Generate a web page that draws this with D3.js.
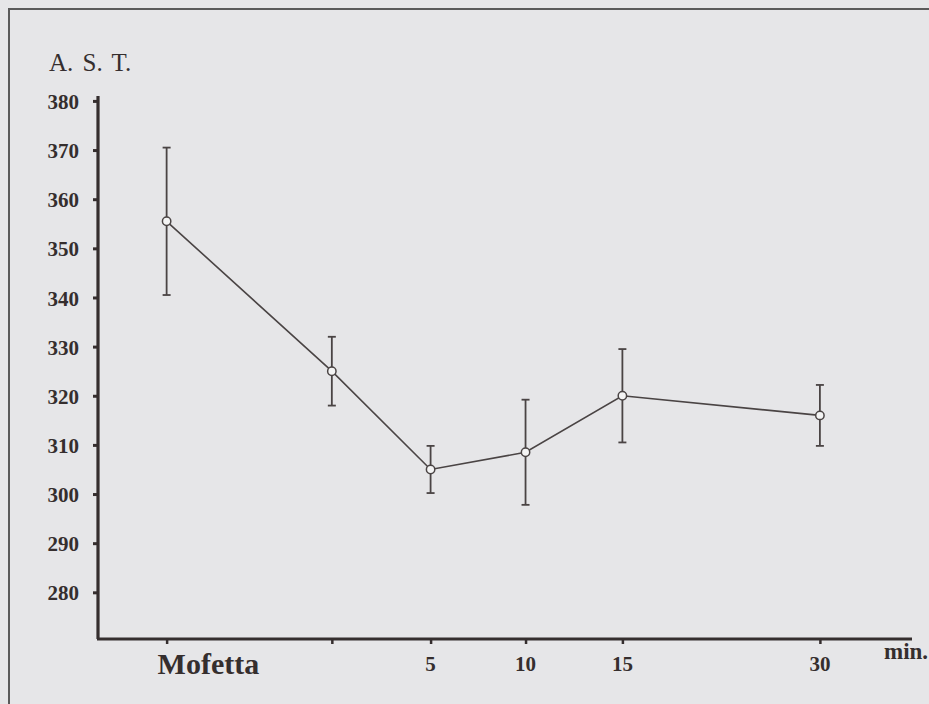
<html>
<head>
<meta charset="utf-8">
</head>
<body style="margin:0;background:#e6e6e8;">
<script src="https://cdn.jsdelivr.net/npm/d3@7"></script>
<script>
	var width = 929;
	var height = 704;

	// data
	var categories = ["Mofetta", "", "5", "10", "15", "30"];
	var slots = [0, 1.74, 2.78, 3.78, 4.8, 6.88]; // where each category sits on the (uneven) x axis
	var means = [355.5, 325, 305, 308.5, 320, 316];
	var sd = [15, 7, 4.8, 10.7, 9.5, 6.2];
	var yTicks = [280, 290, 300, 310, 320, 330, 340, 350, 360, 370, 380];

	var svg = d3.select("body")
		.append("svg")
		.attr("width", width)
		.attr("height", height)
		.style("display", "block")
		.style("background", "#e6e6e8");

	// scan frame (top + left edge)
	svg.append("path")
		.attr("d", "M9,704 V9 H929")
		.attr("fill", "none")
		.attr("stroke", "#5a5a5a")
		.attr("stroke-width", 2);

	var x = d3.scaleLinear().domain([-0.67, 7.85]).range([103, 912]);
	var y = d3.scaleLinear().domain([270.5, 381]).range([639, 96]);

	var ink = "#352e2e";
	var serif = "'Liberation Serif', 'DejaVu Serif', serif";

	// y axis
	var yAxis = svg.append("g")
		.attr("transform", "translate(" + 98 + ",0)")
		.call(d3.axisLeft(y).tickValues(yTicks).tickSize(5).tickPadding(14));
	yAxis.select(".domain")
		.attr("d", "M0," + y(381) + "V" + y(270.5))
		.attr("stroke", ink)
		.attr("stroke-width", 3.2);
	yAxis.selectAll(".tick line").attr("stroke", ink).attr("stroke-width", 3);
	yAxis.selectAll(".tick text")
		.attr("fill", ink)
		.attr("dy", "0.36em")
		.style("font-family", serif)
		.style("font-size", "21px")
		.style("font-weight", "bold");

	// x axis
	var xAxis = svg.append("g")
		.attr("transform", "translate(0," + y(270.5) + ")")
		.call(d3.axisBottom(x).tickValues(slots).tickSize(5).tickFormat(""));
	xAxis.select(".domain")
		.attr("d", "M" + (x(-0.67) - 6) + ",0H" + x(7.85))
		.attr("stroke", ink)
		.attr("stroke-width", 3.2);
	xAxis.selectAll(".tick line").attr("stroke", ink).attr("stroke-width", 2.5);

	var labels = svg.append("g")
		.style("font-family", serif)
		.attr("fill", ink);

	labels.selectAll("text.cat")
		.data(categories)
		.enter()
		.append("text")
		.attr("class", "cat")
		.attr("x", function(d, i) { return i == 0 ? x(slots[i]) - 9 : x(slots[i]); })
		.attr("y", function(d, i) { return i == 0 ? 674 : 671; })
		.attr("text-anchor", function(d, i) { return i == 0 ? "start" : "middle"; })
		.style("font-size", function(d, i) { return i == 0 ? "30px" : "21px"; })
		.style("font-weight", "bold")
		.text(function(d) { return d; });

	labels.append("text")
		.attr("x", 884)
		.attr("y", 659)
		.style("font-size", "23px")
		.style("font-weight", "bold")
		.text("min.");

	labels.append("text")
		.attr("x", 49)
		.attr("y", 71)
		.style("font-size", "25px")
		.style("word-spacing", "3px")
		.text("A. S. T.");

	// error bars
	var bars = svg.append("g").attr("stroke", "#4a4444").attr("stroke-width", 1.8);
	means.forEach(function(m, i) {
		var cx = x(slots[i]);
		bars.append("line").attr("x1", cx).attr("x2", cx).attr("y1", y(m + sd[i])).attr("y2", y(m - sd[i]));
		bars.append("line").attr("x1", cx - 4).attr("x2", cx + 4).attr("y1", y(m + sd[i])).attr("y2", y(m + sd[i]));
		bars.append("line").attr("x1", cx - 4).attr("x2", cx + 4).attr("y1", y(m - sd[i])).attr("y2", y(m - sd[i]));
	});

	// line
	var line = d3.line()
		.x(function(d, i) { return x(slots[i]); })
		.y(function(d) { return y(d); });
	svg.append("path")
		.datum(means)
		.attr("d", line)
		.attr("fill", "none")
		.attr("stroke", "#4a4444")
		.attr("stroke-width", 1.6);

	svg.selectAll("circle.pt")
		.data(means)
		.enter()
		.append("circle")
		.attr("class", "pt")
		.attr("cx", function(d, i) { return x(slots[i]); })
		.attr("cy", function(d) { return y(d); })
		.attr("r", 4.2)
		.attr("fill", "#f4f4f4")
		.attr("stroke", "#4a4444")
		.attr("stroke-width", 1.5);
</script>
</body>
</html>
